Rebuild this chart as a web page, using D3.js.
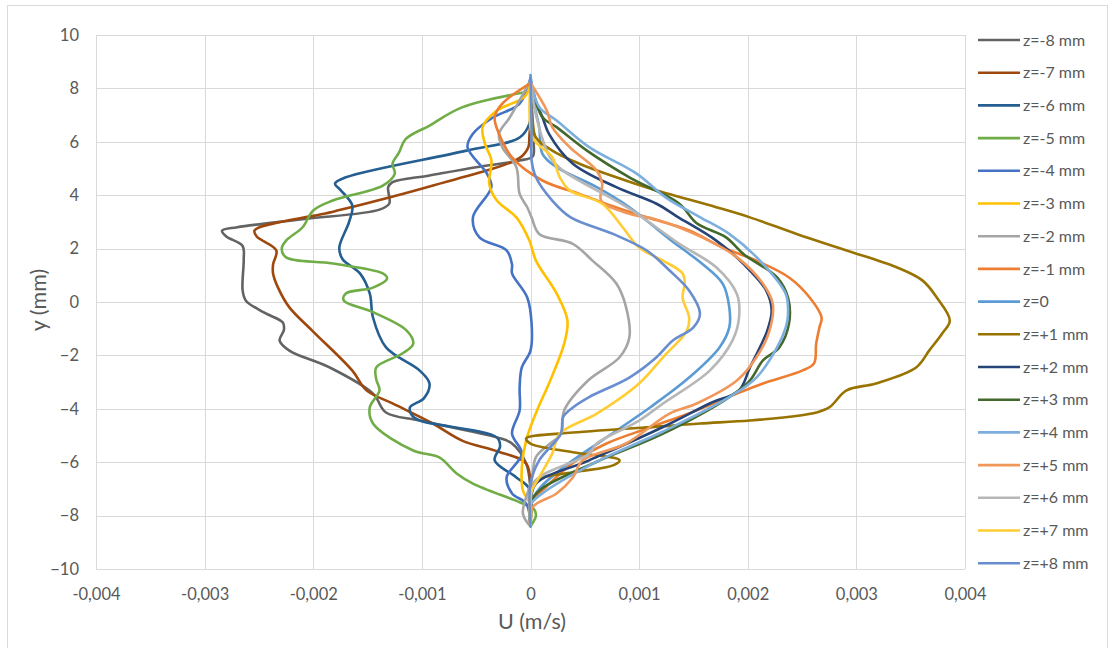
<!DOCTYPE html>
<html><head><meta charset="utf-8">
<script src="https://cdn.jsdelivr.net/npm/d3@7"></script>
<style>body{margin:0;background:#fff}svg{display:block}text{font-family:Lato,"Liberation Sans",sans-serif;fill:#595959}</style>
</head><body>
<svg id="c" width="1112" height="648"></svg>
<script>
const seriesNames = ["z=-8 mm","z=-7 mm","z=-6 mm","z=-5 mm","z=-4 mm","z=-3 mm","z=-2 mm","z=-1 mm","z=0","z=+1 mm","z=+2 mm","z=+3 mm","z=+4 mm","z=+5 mm","z=+6 mm","z=+7 mm","z=+8 mm"];
const seriesColors = ["#636363","#9e480e","#255e91","#70ad47","#4472c4","#ffc000","#a5a5a5","#ed7d31","#5b9bd5","#997300","#264478","#43682b","#7cafdd","#f1975a","#b7b7b7","#ffcd33","#698ed0"];
const xTicks = [-0.004,-0.003,-0.002,-0.001,0,0.001,0.002,0.003,0.004];
const xTickLabels = ["-0,004","-0,003","-0,002","-0,001","0","0,001","0,002","0,003","0,004"];
const yTicks = [-10,-8,-6,-4,-2,0,2,4,6,8,10];

// each series: [U (m/s), y (mm)]
const zm8 = [[0,8.3],[0.00001,7.5],[0.00002,6.5],[0.00003,5.9],[0.00002,5.45],[-0.0001,5.3],[-0.0005,5.05],[-0.00093,4.74],[-0.00127,4.49],[-0.00131,4.3],[-0.0013,3.69],[-0.00139,3.46],[-0.0021,3.1],[-0.0027,2.8],[-0.00284,2.67],[-0.0028,2.45],[-0.00265,2.1],[-0.00264,1.6],[-0.00265,0.43],[-0.00262,0.05],[-0.00245,-0.4],[-0.00228,-0.77],[-0.00227,-1.05],[-0.00231,-1.44],[-0.00222,-1.82],[-0.00185,-2.45],[-0.00145,-3.43],[-0.00133,-4.14],[-0.00102,-4.44],[-0.00031,-5.07],[-0.00017,-5.3],[-0.00004,-6.05],[0,-7],[0,-8.3]];
const zm7 = [[0,8.3],[0,7],[-0.00001,6.2],[-0.00002,5.8],[-0.0001,5.4],[-0.00093,4.33],[-0.0018,3.4],[-0.00254,2.68],[-0.00252,2.45],[-0.00234,1.93],[-0.00237,1.4],[-0.00237,1.07],[-0.00232,0.5],[-0.00222,-0.2],[-0.00201,-1.07],[-0.00164,-2.57],[-0.00151,-3.31],[-0.00127,-3.8],[-0.0009,-4.55],[-0.00063,-5.19],[-0.0003,-5.6],[-0.00004,-6.05],[0,-7],[0,-8.3]];
const zm6 = [[0,8.3],[0,7.2],[-0.00001,6.68],[-0.0001,6.16],[-0.00059,5.67],[-0.0017,4.67],[-0.0018,4.43],[-0.00175,4.2],[-0.00164,3.61],[-0.00167,3.0],[-0.00176,2.04],[-0.00173,1.6],[-0.00157,1.07],[-0.00148,0.32],[-0.00145,-0.58],[-0.00133,-1.7],[-0.00102,-2.57],[-0.00093,-3.05],[-0.00098,-3.6],[-0.00111,-3.95],[-0.00109,-4.25],[-0.00102,-4.44],[-0.00031,-5.07],[-0.00028,-5.4],[-0.00033,-5.93],[-0.00013,-6.57],[-0.00001,-7.0],[0,-8.3]];
const zm5 = [[0.00001,7.9],[-0.00063,7.29],[-0.00093,6.61],[-0.00115,6.1],[-0.00121,5.6],[-0.00127,5.18],[-0.00125,4.8],[-0.00136,4.36],[-0.00182,3.8],[-0.002,3.43],[-0.0021,2.79],[-0.00225,2.3],[-0.00229,2.0],[-0.00225,1.67],[-0.00182,1.44],[-0.00136,1.07],[-0.00132,0.88],[-0.00145,0.54],[-0.0017,0.32],[-0.00172,0.06],[-0.00145,-0.38],[-0.00114,-1.07],[-0.00108,-1.56],[-0.00118,-1.93],[-0.00142,-2.45],[-0.00142,-2.9],[-0.00139,-3.31],[-0.00148,-3.95],[-0.00145,-4.55],[-0.00108,-5.56],[-0.00084,-5.82],[-0.00068,-6.42],[-0.00053,-6.8],[-0.0001,-7.5],[0.00003,-7.75],[0.00005,-8.0],[0,-8.4]];
const zm4 = [[0,8.4],[-0.0001,7.43],[-0.00035,6.9],[-0.00053,6.3],[-0.00058,5.8],[-0.0004,4.8],[-0.00036,4.3],[-0.00053,3.17],[-0.00047,2.42],[-0.00022,1.93],[-0.00017,1.4],[-0.00017,1.07],[-0.00003,0.17],[0.00001,-0.8],[0,-1.82],[-0.00008,-2.45],[-0.0001,-3.2],[-0.0001,-4.06],[-0.00017,-4.93],[-0.00008,-5.68],[-0.00022,-6.57],[-0.00017,-7.17],[-0.00004,-7.55],[0,-8.3]];
const zm3 = [[0,8.3],[-0.00005,7.7],[-0.00031,7.17],[-0.00044,6.55],[-0.00042,5.93],[-0.00036,5.3],[-0.00038,4.43],[-0.00031,3.8],[-0.00013,3.17],[-0.00001,2.3],[0.00005,1.55],[0.00024,0.32],[0.00034,-0.69],[0.00031,-1.56],[0.00017,-3.05],[0.00006,-4.06],[-0.00004,-5.18],[-0.00008,-6.2],[-0.00007,-7.06],[0,-7.6],[0,-8.3]];
const zm2 = [[0,8.3],[-0.00019,6.92],[-0.00029,6.3],[-0.00026,5.8],[-0.00013,5.05],[-0.0001,4.05],[-0.00003,3.55],[0.00001,3.17],[0.00008,2.55],[0.00039,2.18],[0.00057,1.55],[0.00079,0.69],[0.00088,-0.2],[0.00091,-1.33],[0.00082,-2.07],[0.00053,-2.94],[0.00031,-4.06],[0.00028,-4.93],[0.00015,-5.4],[0.00005,-5.81],[0.00001,-6.68],[-0.00007,-7.92],[0,-8.4]];
const zm1 = [[0,8.2],[-0.00026,7.43],[-0.00033,6.92],[-0.00029,6.3],[-0.00017,5.42],[0.00011,4.55],[0.00045,4.05],[0.00075,3.6],[0.00107,3.17],[0.00146,2.68],[0.00177,2.04],[0.00208,1.55],[0.00238,0.92],[0.00257,0.17],[0.00268,-0.58],[0.00266,-0.95],[0.00263,-1.56],[0.00261,-2.3],[0.0025,-2.57],[0.00214,-3.05],[0.0019,-3.43],[0.00153,-4.06],[0.0011,-4.7],[0.0007,-5.3],[0.0004,-6.0],[0.00015,-6.9],[0,-7.6],[0,-8.4]];
const z0 = [[0,8.5],[0.00003,7.5],[0.00008,6.55],[0.00011,5.55],[0.00024,5.05],[0.00061,4.3],[0.00091,3.55],[0.00128,2.35],[0.00158,1.43],[0.00177,0.68],[0.00183,-0.2],[0.00183,-0.95],[0.00174,-1.7],[0.00146,-2.83],[0.0011,-3.95],[0.00066,-5.18],[0.0003,-6.2],[0.00008,-7.0],[0,-7.6],[0,-8.4]];
const zp1 = [[0,8.3],[0.00002,6.8],[0.00005,6.16],[0.0002,5.67],[0.00045,5.18],[0.00079,4.67],[0.0011,4.25],[0.00171,3.55],[0.00202,3.17],[0.00245,2.55],[0.00291,1.93],[0.00337,1.3],[0.00361,0.8],[0.00374,0.17],[0.00386,-0.69],[0.00379,-1.18],[0.00367,-1.82],[0.00355,-2.45],[0.00318,-3.05],[0.00291,-3.31],[0.00275,-3.95],[0.00263,-4.14],[0.00248,-4.25],[0.00202,-4.44],[0.00156,-4.55],[0.00131,-4.63],[0.00039,-4.89],[-0.00004,-5.11],[0,-5.3],[0.00039,-5.63],[0.00082,-5.93],[0.00076,-6.12],[0.00039,-6.38],[0.00005,-6.68],[0,-7.2],[0,-8.3]];
const zp2 = [[0,8.3],[0.00005,7.5],[0.00011,6.92],[0.00017,6.3],[0.00039,5.18],[0.00079,4.3],[0.00116,3.68],[0.00135,3.2],[0.00171,2.3],[0.00196,1.43],[0.00217,0.43],[0.00222,-0.32],[0.00218,-1.07],[0.00202,-2.45],[0.00192,-3.31],[0.00165,-3.8],[0.00122,-4.68],[0.00054,-5.93],[0.00005,-6.8],[0,-7.5],[0,-8.3]];
const zp3 = [[0,8.3],[0.00011,6.92],[0.00024,6.55],[0.00052,5.67],[0.00091,4.67],[0.00137,3.68],[0.00153,2.95],[0.0018,2.42],[0.00196,1.8],[0.00227,0.92],[0.00237,0.17],[0.00238,-0.8],[0.00229,-1.7],[0.00214,-2.19],[0.00202,-2.94],[0.00183,-3.56],[0.00122,-4.93],[0.0006,-6.0],[0.0001,-7.0],[0,-7.5],[0,-8.3]];
const zp4 = [[0,8.4],[0.00008,7.3],[0.00024,6.8],[0.00054,5.8],[0.00098,4.8],[0.00125,3.9],[0.00155,3.2],[0.00183,2.55],[0.00214,1.43],[0.00235,0.3],[0.00237,-0.5],[0.00235,-0.95],[0.00227,-1.7],[0.00208,-2.83],[0.00183,-3.56],[0.00122,-4.85],[0.0006,-6.0],[0.0001,-7.2],[0,-7.6],[0,-8.3]];
const zp5 = [[0,8.2],[0.00015,7.17],[0.0002,6.55],[0.00036,5.8],[0.00061,4.92],[0.00066,4.43],[0.00065,3.8],[0.00091,3.3],[0.00115,3.1],[0.00158,2.42],[0.0019,1.68],[0.00214,0.68],[0.00223,-0.07],[0.0022,-1.07],[0.00208,-2.07],[0.0019,-2.94],[0.00153,-3.8],[0.00128,-4.18],[0.00088,-5.3],[0.00048,-5.93],[0.00039,-6.57],[0.00024,-7.17],[0.00002,-7.68],[0,-8.3]];
const zp6 = [[0,8.3],[0.00005,7.0],[0.00018,5.42],[0.0003,4.92],[0.00091,3.5],[0.00137,2.18],[0.00171,1.3],[0.0019,0.3],[0.00192,-0.58],[0.00186,-1.44],[0.00165,-2.57],[0.00122,-3.8],[0.001,-4.44],[0.00061,-5.3],[0.00054,-5.68],[0.00005,-6.68],[0,-7.5],[0,-8.3]];
const zp7 = [[0,8.2],[0.00002,6.16],[0.0002,5.42],[0.00027,4.67],[0.00036,4.18],[0.00066,3.68],[0.00085,2.79],[0.001,2.04],[0.00122,1.55],[0.0014,1.07],[0.00142,0.7],[0.0014,0.17],[0.00146,-0.58],[0.00144,-1.07],[0.00122,-2.07],[0.001,-3.05],[0.00061,-4.18],[0.00027,-4.93],[0.0002,-5.68],[0.00008,-6.57],[0,-7.2],[0,-8.3]];
const zp8 = [[0,8.4],[0.00001,6.5],[0.00001,5.3],[0.00005,4.67],[0.0002,3.8],[0.00037,3.17],[0.00076,2.55],[0.00107,1.93],[0.00128,1.18],[0.00146,0.43],[0.00156,-0.43],[0.0015,-0.95],[0.00131,-1.44],[0.00116,-2.07],[0.00091,-2.83],[0.00054,-3.56],[0.00039,-3.95],[0.0003,-4.31],[0.00028,-4.93],[0.00008,-5.93],[0,-6.8],[0,-8.3]];

const seriesData = [zm8,zm7,zm6,zm5,zm4,zm3,zm2,zm1,z0,zp1,zp2,zp3,zp4,zp5,zp6,zp7,zp8];

const svg = d3.select("#c");
svg.append("rect").attr("x",7.5).attr("y",5.5).attr("width",1100).attr("height",660)
  .attr("fill","#fff").attr("stroke","#d9d9d9").attr("stroke-width",1);

const x = d3.scaleLinear().domain([-0.004,0.004]).range([96,965]);
const y = d3.scaleLinear().domain([-10,10]).range([569,35]);

// gridlines
svg.append("g").selectAll("line").data(xTicks).join("line")
  .attr("x1",d=>Math.round(x(d))+0.5).attr("x2",d=>Math.round(x(d))+0.5)
  .attr("y1",y(10)).attr("y2",y(-10)).attr("stroke","#d9d9d9");
svg.append("g").selectAll("line").data(yTicks).join("line")
  .attr("y1",d=>Math.round(y(d))+0.5).attr("y2",d=>Math.round(y(d))+0.5)
  .attr("x1",x(-0.004)).attr("x2",x(0.004)).attr("stroke","#d9d9d9");

// axes (labels only)
const xAxis = d3.axisBottom(x).tickValues(xTicks).tickSize(0).tickPadding(0)
  .tickFormat((d,i)=>xTickLabels[i]);
const gx = svg.append("g").attr("transform","translate(0,594)").call(xAxis);
gx.select(".domain").remove();
gx.selectAll("text").attr("dy","0.35em").style("font-size","16.5px").style("fill","#595959").style("font-family","Lato, sans-serif");

const yAxis = d3.axisLeft(y).tickValues(yTicks).tickSize(0).tickPadding(0);
const gy = svg.append("g").attr("transform","translate(79,0)").call(yAxis);
gy.select(".domain").remove();
gy.selectAll("text").style("font-size","16.5px").style("fill","#595959").style("font-family","Lato, sans-serif");

// axis titles
svg.append("text").attr("x",532).attr("y",629).attr("text-anchor","middle")
  .style("font-size","21.5px").text("U (m/s)");
svg.append("text").attr("transform","translate(46,300) rotate(-90)").attr("text-anchor","middle")
  .style("font-size","21.5px").text("y (mm)");

// series
const line = d3.line().x(d=>x(d[0])).y(d=>y(d[1])).curve(d3.curveCatmullRom.alpha(0.5));
svg.append("g").selectAll("path").data(seriesData).join("path")
  .attr("d",line).attr("fill","none")
  .attr("stroke",(d,i)=>seriesColors[i]).attr("stroke-width",2.6)
  .attr("stroke-linejoin","round").attr("stroke-linecap","round");

// legend
const lg = svg.append("g");
seriesNames.forEach((n,i)=>{
  const ly = 40 + i*32.7;
  lg.append("line").attr("x1",978).attr("x2",1020).attr("y1",ly).attr("y2",ly)
    .attr("stroke",seriesColors[i]).attr("stroke-width",2.6);
  lg.append("text").attr("x",1023).attr("y",ly).attr("dy","0.35em")
    .style("font-size","16px").text(n);
});
</script>
</body></html>
